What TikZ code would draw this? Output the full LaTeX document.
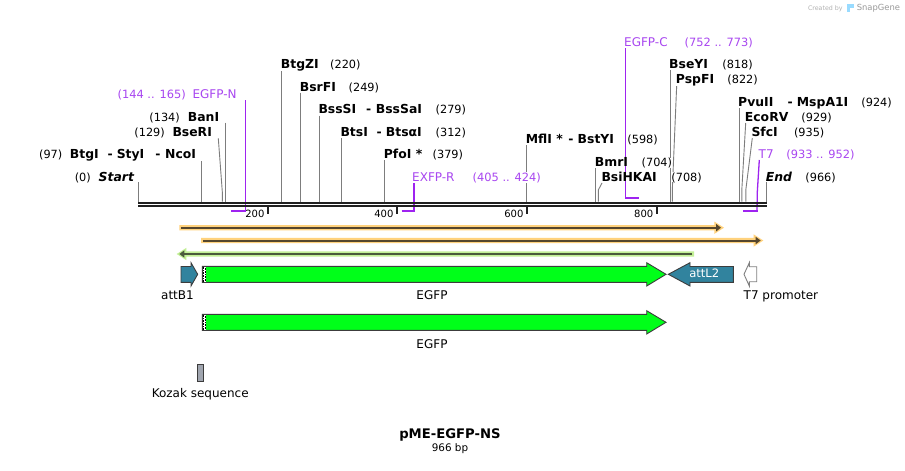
\documentclass[tikz,border=0pt]{standalone}
\usepackage{fontspec}
\setmainfont{DejaVu Sans}
\definecolor{cutcol}{RGB}{125,125,125}
\definecolor{primline}{RGB}{158,35,240}
\definecolor{primtext}{RGB}{168,70,240}
\definecolor{tealf}{RGB}{49,131,158}
\definecolor{egfpf}{RGB}{0,255,25}
\definecolor{orhalo}{RGB}{255,210,125}
\definecolor{ordark}{RGB}{85,70,45}
\definecolor{grhalo}{RGB}{195,240,150}
\definecolor{grdark}{RGB}{75,90,60}
\definecolor{kozakf}{RGB}{160,165,175}
\definecolor{featline}{RGB}{60,60,60}
\definecolor{bbcol}{RGB}{32,32,32}
\newcommand\mkcut[3]{\coordinate (t#1) at (#2,#3); \coordinate (b#1) at (#2,201.7); \draw[cutln] (t#1) -- (b#1);}
\newcommand\mkslant[5]{\coordinate (t#1) at (#2,#3); \coordinate (k#1) at (#4,#5); \coordinate (b#1) at (#4,201.7); \draw[cutln] (t#1) -- (k#1) -- (b#1);}
\begin{document}
\begin{tikzpicture}[x=1pt,y=-1pt,
  nm/.style={inner sep=0pt, fill=white, anchor=base west, font=\fontsize{12.4}{14}\selectfont\bfseries},
  nmbi/.style={inner sep=0pt, fill=white, anchor=base west, font=\fontsize{12.4}{14}\selectfont\bfseries\itshape},
  num/.style={inner sep=0pt, fill=white, anchor=base west, font=\fontsize{11.3}{13}\selectfont},
  pr/.style={inner sep=0pt, fill=white, anchor=base west, font=\fontsize{12}{14}\selectfont, text=primtext},
  prn/.style={inner sep=0pt, fill=white, anchor=base west, font=\fontsize{11.4}{13}\selectfont, text=primtext},
  cutln/.style={draw=cutcol, line width=0.9pt},
  primh/.style={draw=primline, line width=2pt},
  primv/.style={draw=primline, line width=1.3pt},
  feat/.style={draw=featline, line width=0.9pt},
  flbl/.style={inner sep=0pt, anchor=base, font=\fontsize{12}{14}\selectfont},
  tick/.style={draw=bbcol, line width=2pt},
  ticklbl/.style={inner sep=0pt, anchor=base east, font=\fontsize{10}{12}\selectfont}]
\useasboundingbox (0,0) rectangle (905,471);
\fill[white] (0,0) rectangle (905,471);

% watermark
\node[inner sep=0pt, anchor=base west, font=\fontsize{6.3}{7}\selectfont, text=black!30] (wm1) at (807.8,10) {Created by};
\fill[blue!35!cyan!40] (847.2,3.5) rectangle (853.6,8.3);
\fill[blue!35!cyan!40] (847.2,8) rectangle (849.6,12);
\node[inner sep=0pt, anchor=base west, font=\fontsize{8.4}{9}\selectfont, text=black!40] (wm2) at (856.6,10.2) {SnapGene};

% ---- cut lines
\mkcut{Start}{138.3}{182}
\mkcut{BtgI}{201.7}{161}
\mkslant{BseRI}{218.3}{138.3}{222.3}{191.7}
\mkcut{BanI}{225.3}{122.7}
\mkcut{BtgZI}{281.7}{70}
\mkcut{BsrFI}{300.7}{92.7}
\mkcut{BssSI}{319.3}{115.5}
\mkcut{BtsI}{341.3}{138.3}
\mkcut{PfoI}{384.7}{160}
\mkcut{MflI}{526.7}{145}
\mkcut{BmrI}{595.7}{168.3}
\mkslant{BsiHKAI}{602}{183}{598.3}{190}
\mkcut{BseYI}{670}{70}
\mkslant{PspFI}{676.7}{85}{672.3}{190}
\mkcut{PvuII}{739}{108}
\mkslant{EcoRV}{745.7}{123}{741.8}{190}
\mkslant{SfcI}{752.3}{138}{745.8}{190}
\mkcut{End}{766.7}{182}

% ---- primer brackets
\coordinate (pNa) at (231.2,210.7); \coordinate (pNb) at (245.3,210.7); \coordinate (pNt) at (245.3,100);
\draw[primh] (pNa) -- ([xshift=0.6pt]pNb);
\draw[primv] (pNb) -- (pNt);
\coordinate (pRa) at (401.5,211); \coordinate (pRb) at (414,211); \coordinate (pRt) at (414,182.5);
\draw[primh] (pRa) -- ([xshift=0.6pt]pRb);
\draw[primv] (pRb) -- (pRt);
\coordinate (pCa) at (625.7,197.7); \coordinate (pCb) at (639,197.7); \coordinate (pCt) at (625.7,48);
\draw[primh] ([xshift=-0.6pt]pCa) -- (pCb);
\draw[primv] (pCa) -- (pCt);
\coordinate (pTa) at (743.3,210.7); \coordinate (pTb) at (757,210.7); \coordinate (pTk) at (757.3,192); \coordinate (pTt) at (759.3,160);
\draw[primh] (pTa) -- ([xshift=0.6pt]pTb);
\draw[primv] (pTb) -- (pTk) -- (pTt);

% backbone
\coordinate (bbL1) at (138,202.8); \coordinate (bbR1) at (766.7,202.8);
\coordinate (bbL2) at (138,206.2); \coordinate (bbR2) at (766.7,206.2);
\draw[bbcol, line width=2.3pt] (bbL1) -- (bbR1);
\draw[bbcol, line width=2.3pt] (bbL2) -- (bbR2);

% ticks
\foreach \x/\t in {267.8/200, 396.8/400, 526.8/600, 656.7/800}{
  \draw[tick] (\x,207.3) -- (\x,214);
  \node[ticklbl] at (\x-3.2,217.7) {\t};
}

% ---- left labels
\node[num,anchor=base east] (n0) at (91,181) {(0)};
\node[nmbi] (eStart) at (98.5,181) {Start};
\node[num,anchor=base east] (n97) at (62.5,158.3) {(97)};
\node[nm] (eBtgI) at (69.7,158.3) {BtgI};
\node[nm] (h1) at (107.4,158.3) {-};
\node[nm] (eStyI) at (116.6,158.3) {StyI};
\node[nm] (h2) at (155.1,158.3) {-};
\node[nm] (eNcoI) at (165,158.3) {NcoI};
\node[num,anchor=base east] (n129) at (165,136) {(129)};
\node[nm] (eBseRI) at (172.3,136) {BseRI};
\node[num,anchor=base east] (n134) at (180,121) {(134)};
\node[nm] (eBanI) at (187.7,121) {BanI};
\node[prn,anchor=base east] (pNr) at (186,98.3) {(144 .. 165)};
\node[pr] (pN) at (192.3,98.3) {EGFP-N};

% ---- right labels
\node[nm] (eBtgZI) at (280.7,68.3) {BtgZI};
\node[num] (n220) at (330,68.3) {(220)};
\node[nm] (eBsrFI) at (299.7,91) {BsrFI};
\node[num] (n249) at (348.5,91) {(249)};
\node[nm] (eBssSI) at (318.3,113.3) {BssSI};
\node[nm] (h3) at (365.8,113.3) {-};
\node[nm] (eBssSaI) at (375.7,113.3) {BssSaI};
\node[num] (n279) at (435.5,113.3) {(279)};
\node[nm] (eBtsI) at (340.3,136) {BtsI};
\node[nm] (h4) at (376.4,136) {-};
\node[nm] (eBtsaI) at (385.7,136) {Bts\char"03B1 I};
\node[num] (n312) at (435.5,136) {(312)};
\node[nm] (ePfoI) at (383.7,158.3) {PfoI *};
\node[num] (n379) at (432.5,158.3) {(379)};
\node[pr] (pR) at (412,181) {EXFP-R};
\node[prn] (pRr) at (472.5,181) {(405 .. 424)};
\node[nm] (eMflI) at (525.7,143.3) {MflI *};
\node[nm] (h5) at (568.1,143.3) {-};
\node[nm] (eBstYI) at (577.5,143.3) {BstYI};
\node[num] (n598) at (627.2,143.3) {(598)};
\node[nm] (eBmrI) at (594.7,166.3) {BmrI};
\node[num] (n704) at (641.5,166.3) {(704)};
\node[nm] (eBsiHKAI) at (601.3,181) {BsiHKAI};
\node[num] (n708) at (671.2,181) {(708)};
\node[pr] (pC) at (624,46) {EGFP-C};
\node[prn] (pCr) at (684.5,46) {(752 .. 773)};
\node[nm] (eBseYI) at (669,68.3) {BseYI};
\node[num] (n818) at (722.2,68.3) {(818)};
\node[nm] (ePspFI) at (675.7,83.3) {PspFI};
\node[num] (n822) at (727.2,83.3) {(822)};
\node[nm] (ePvuII) at (738,106.3) {PvuII};
\node[nm] (h6) at (787.4,106.3) {-};
\node[nm] (eMspA1I) at (796.7,106.3) {MspA1I};
\node[num] (n924) at (861.2,106.3) {(924)};
\node[nm] (eEcoRV) at (744.7,121.3) {EcoRV};
\node[num] (n929) at (801.2,121.3) {(929)};
\node[nm] (eSfcI) at (751.3,136.3) {SfcI};
\node[num] (n935) at (793.8,136.3) {(935)};
\node[pr] (pT7) at (758.5,158.3) {T7};
\node[prn] (pT7r) at (786.2,158.3) {(933 .. 952)};
\node[nmbi] (eEnd) at (765.7,181) {End};
\node[num] (n966) at (805.2,181) {(966)};

% ---- primer binding arrows
% forward 1
\fill[orhalo] (179.3,225.1) -- (714.3,225.1) -- (714.3,221.5) -- (724,227.7) -- (714.3,233.9) -- (714.3,230.3) -- (179.3,230.3) -- cycle;
\coordinate (o1a) at (181,227.7); \coordinate (o1b) at (717,227.7);
\draw[ordark, line width=2pt] (o1a) -- (o1b);
\fill[ordark] (716.2,224) -- (721,227.7) -- (716.2,231.4) -- cycle;
% forward 2
\fill[orhalo] (201,237.9) -- (753.6,237.9) -- (753.6,234.3) -- (763.3,240.5) -- (753.6,246.7) -- (753.6,243.1) -- (201,243.1) -- cycle;
\coordinate (o2a) at (203,240.5); \coordinate (o2b) at (756.5,240.5);
\draw[ordark, line width=2pt] (o2a) -- (o2b);
\fill[ordark] (755.7,236.8) -- (760.6,240.5) -- (755.7,244.2) -- cycle;
% reverse (green)
\fill[grhalo] (694,251.4) -- (186.4,251.4) -- (186.4,247.8) -- (176.7,254) -- (186.4,260.2) -- (186.4,256.6) -- (694,256.6) -- cycle;
\coordinate (g1a) at (692.3,254); \coordinate (g1b) at (183.5,254);
\draw[grdark, line width=2pt] (g1a) -- (g1b);
\fill[grdark] (184.3,250.3) -- (179.4,254) -- (184.3,257.7) -- cycle;

% ---- features row 1
\draw[feat, fill=tealf] (181,266.5) -- (191,266.5) -- (191,262.7) -- (197.7,274.3) -- (191,286) -- (191,282.3) -- (181,282.3) -- cycle;
\node[flbl] (lattB1) at (177.5,299.5) {attB1};

\draw[feat, fill=egfpf] (202.3,266.3) -- (646.7,266.3) -- (646.7,262.7) -- (666,274.3) -- (646.7,286) -- (646.7,282.3) -- (202.3,282.3) -- cycle;
\fill[white] (202.8,266.8) rectangle (206.3,281.8);
\draw[black, line width=0.8pt, dash pattern=on 0.8pt off 0.8pt] (203.8,266.8) -- (203.8,281.8);
\draw[black, line width=0.8pt, dash pattern=on 0.8pt off 0.8pt] (205.4,267.6) -- (205.4,281.8);
\node[flbl] (lEGFP1) at (432,299.5) {EGFP};

\draw[feat, fill=tealf] (668.3,274.3) -- (690,262.7) -- (690,266.5) -- (733.3,266.5) -- (733.3,282.3) -- (690,282.3) -- (690,286) -- cycle;
\node[inner sep=0pt, anchor=base, font=\fontsize{11.6}{13}\selectfont, text=white] (lattL2) at (704.3,277.7) {attL2};

\draw[draw=black!50, line width=0.9pt, fill=white] (744,274.3) -- (749.3,262.7) -- (749.3,266.7) -- (756.7,266.7) -- (756.7,281.7) -- (749.3,281.7) -- (749.3,286) -- cycle;
\node[inner sep=0pt, anchor=base west, font=\fontsize{12}{14}\selectfont] (lT7p) at (743.5,299.5) {T7 promoter};

% ---- features row 2
\draw[feat, fill=egfpf] (202.3,314.3) -- (646.7,314.3) -- (646.7,310.7) -- (666,322.3) -- (646.7,334) -- (646.7,330.3) -- (202.3,330.3) -- cycle;
\fill[white] (202.8,314.8) rectangle (206.3,329.8);
\draw[black, line width=0.8pt, dash pattern=on 0.8pt off 0.8pt] (203.8,314.8) -- (203.8,329.8);
\draw[black, line width=0.8pt, dash pattern=on 0.8pt off 0.8pt] (205.4,315.6) -- (205.4,329.8);
\node[flbl] (lEGFP2) at (432,348) {EGFP};

% ---- Kozak
\draw[feat, fill=kozakf] (197.5,364.5) rectangle (203,381.5);
\node[flbl] (lKozak) at (200.2,397) {Kozak sequence};

% ---- title
\node[inner sep=0pt, anchor=base, font=\fontsize{13.2}{15}\selectfont\bfseries] (title) at (450,438.5) {pME-EGFP-NS};
\node[inner sep=0pt, anchor=base, font=\fontsize{10.4}{12}\selectfont] (bp) at (450,451.7) {966 bp};
\end{tikzpicture}
\end{document}
